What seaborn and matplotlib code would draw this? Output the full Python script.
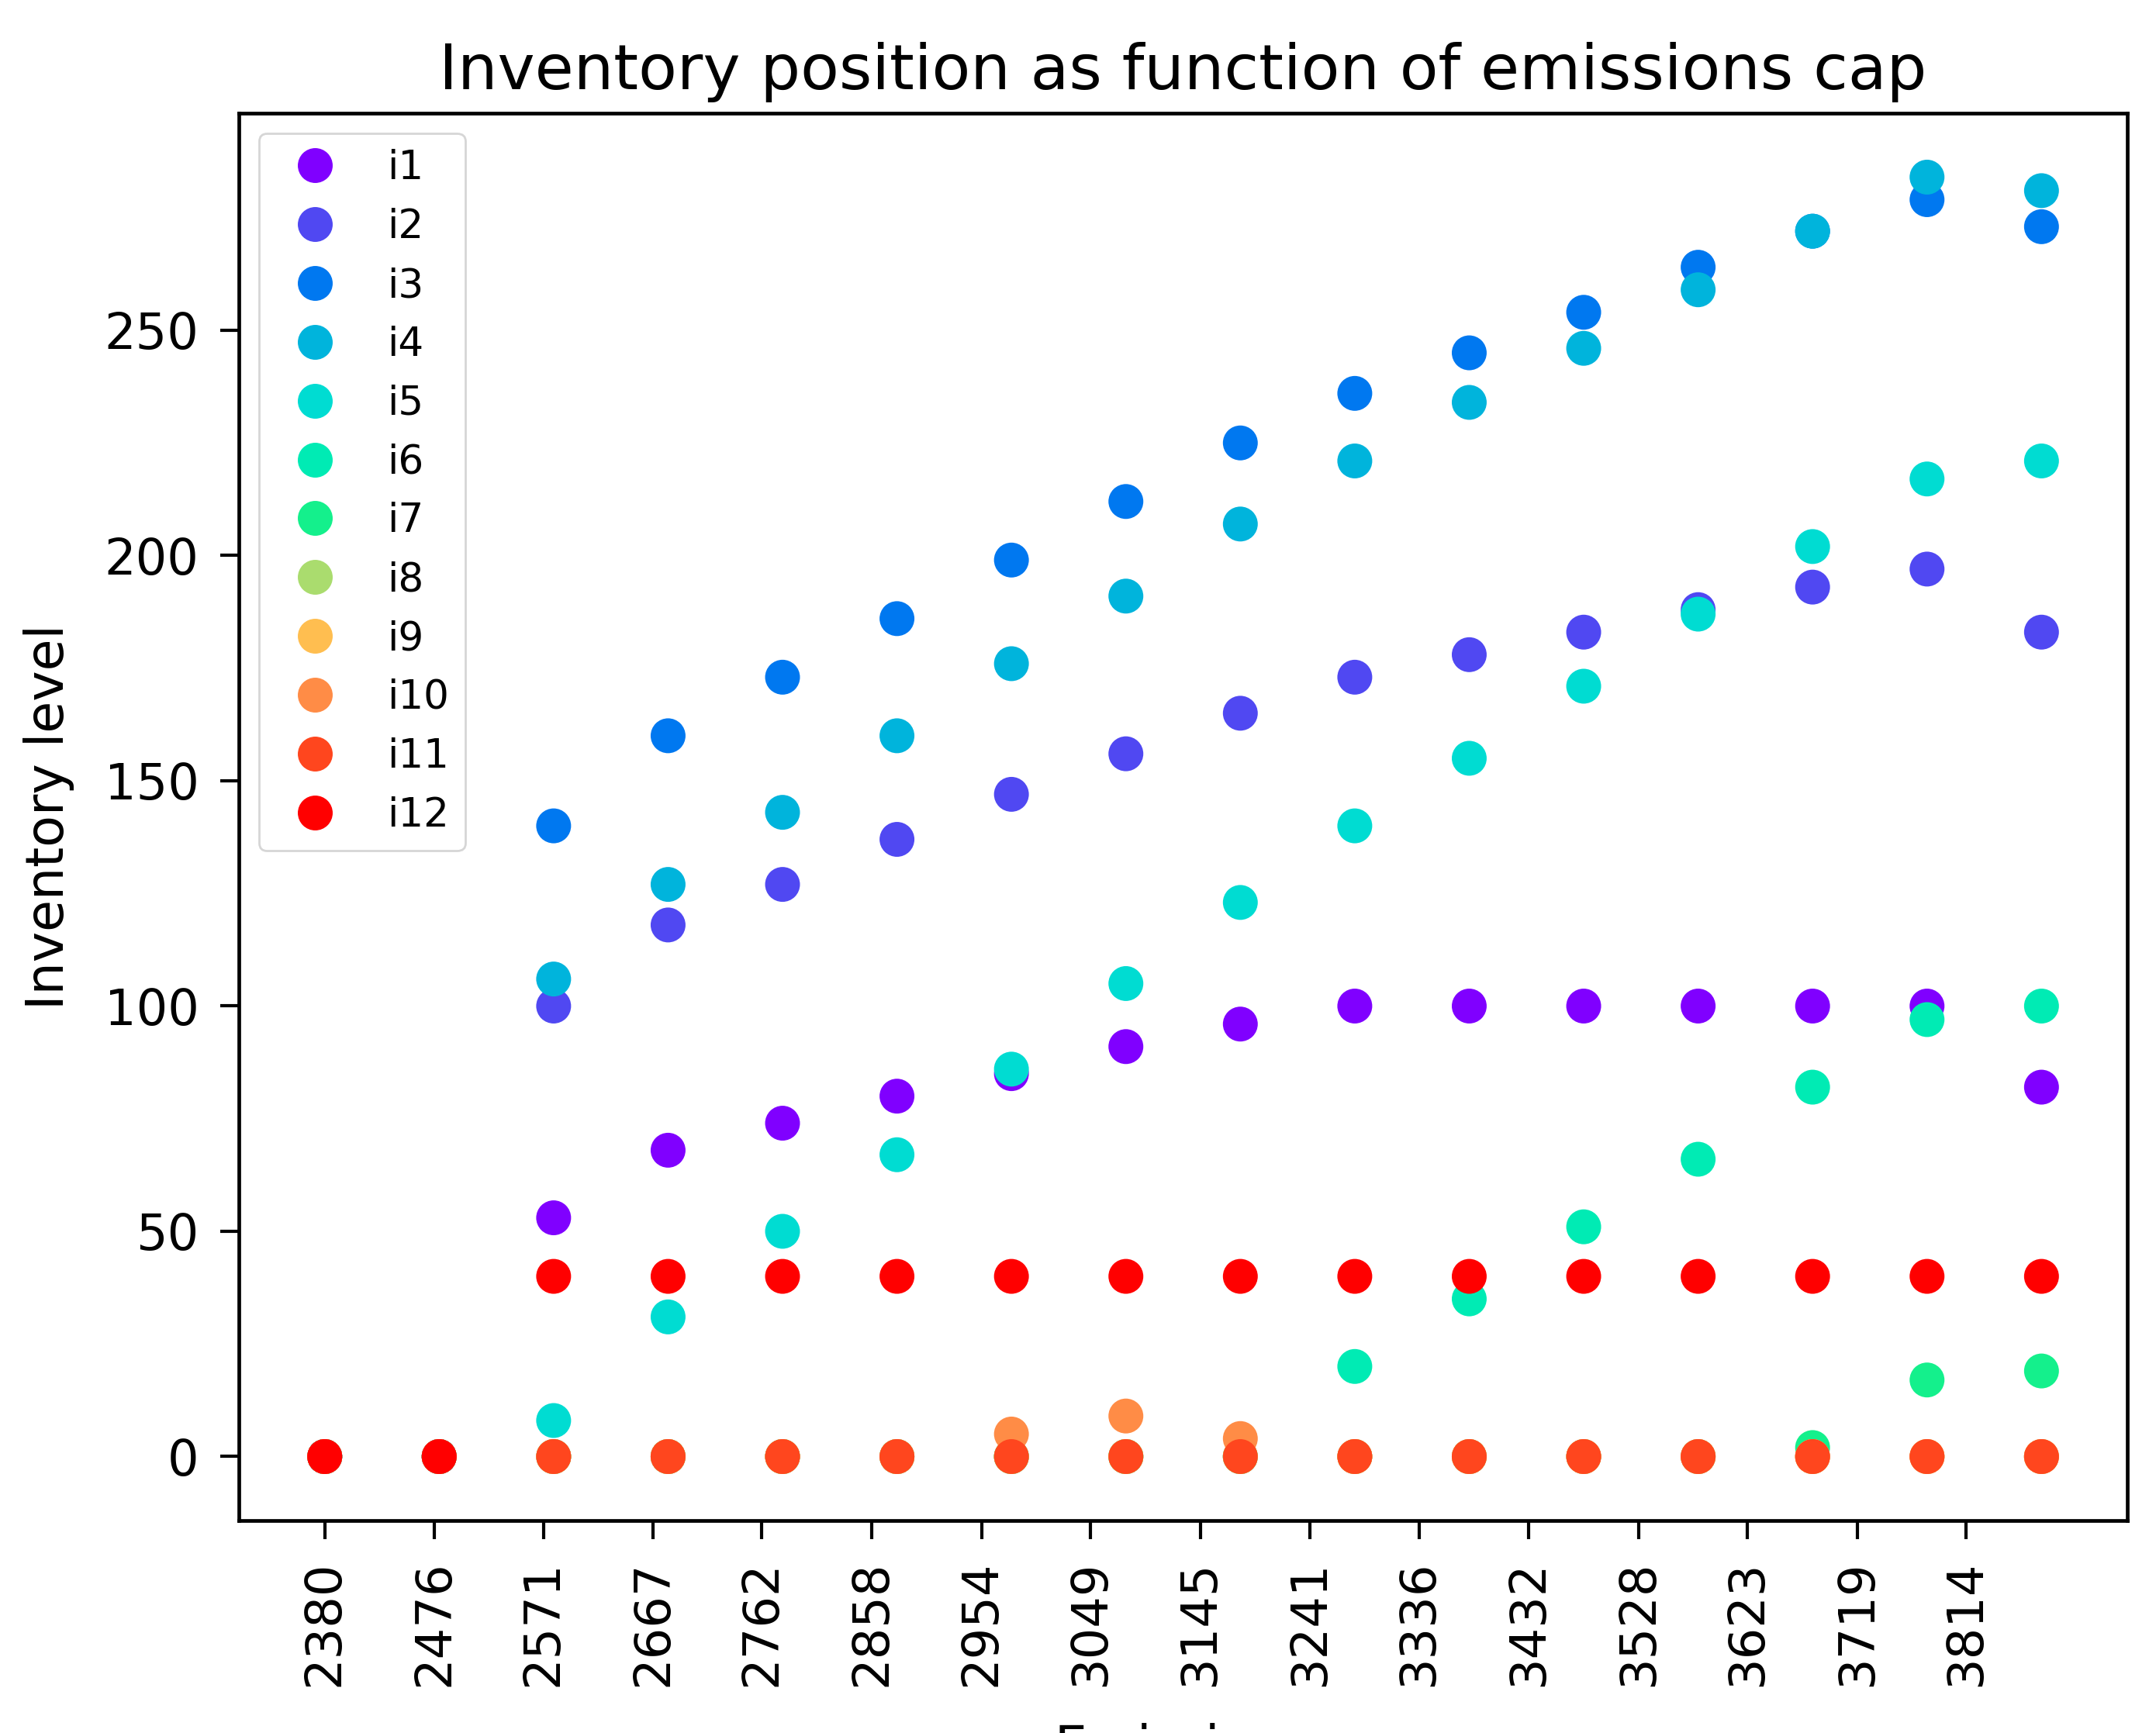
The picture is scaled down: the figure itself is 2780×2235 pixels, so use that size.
import numpy as np
import pandas as pd
import matplotlib
matplotlib.use("Agg")
import matplotlib.pyplot as plt
import seaborn as sns

# Emissions cap values (x) and the tick labels shown on the axis
caps = [2380, 2480, 2580, 2680, 2780, 2880, 2980, 3080,
        3180, 3280, 3380, 3480, 3580, 3680, 3780, 3880]
tick_vals = [2380, 2476, 2571, 2667, 2762, 2858, 2954, 3049,
             3145, 3241, 3336, 3432, 3528, 3623, 3719, 3814]
y_ticks = [0, 50, 100, 150, 200, 250]

series_names = ["i1", "i2", "i3", "i4", "i5", "i6",
                "i7", "i8", "i9", "i10", "i11", "i12"]

# rainbow-like colours as they appear in the chart
series_colors = ["#8000ff", "#5048f2", "#0078f0", "#00b4dc", "#00dcd2", "#00ebb4",
                 "#14f08c", "#aadc6e", "#ffbe50", "#ff8c46", "#ff461e", "#ff0000"]

# Inventory level per series
i1 = [0, 0, 53, 68, 74, 80, 85, 91, 96, 100, 100, 100, 100, 100, 100, 82]
i2 = [0, 0, 100, 118, 127, 137, 147, 156, 165, 173, 178, 183, 188, 193, 197, 183]
i3 = [0, 0, 140, 160, 173, 186, 199, 212, 225, 236, 245, 254, 264, 272, 279, 273]
i4 = [0, 0, 106, 127, 143, 160, 176, 191, 207, 221, 234, 246, 259, 272, 284, 281]
i5 = [0, 0, 8, 31, 50, 67, 86, 105, 123, 140, 155, 171, 187, 202, 217, 221]
i6 = [0, 0, 0, 0, 0, 0, 0, 0, 0, 20, 35, 51, 66, 82, 97, 100]
i7 = [0, 0, 0, 0, 0, 0, 0, 0, 0, 0, 0, 0, 0, 2, 17, 19]
i8 = [0, 0, 0, 0, 0, 0, 0, 0, 0, 0, 0, 0, 0, 0, 0, 0]
i9 = [0, 0, 0, 0, 0, 0, 0, 0, 0, 0, 0, 0, 0, 0, 0, 0]
i10 = [0, 0, 0, 0, 0, 0, 5, 9, 4, 0, 0, 0, 0, 0, 0, 0]
i11 = [0, 0, 0, 0, 0, 0, 0, 0, 0, 0, 0, 0, 0, 0, 0, 0]
i12 = [0, 0, 40, 40, 40, 40, 40, 40, 40, 40, 40, 40, 40, 40, 40, 40]

series_values = [i1, i2, i3, i4, i5, i6, i7, i8, i9, i10, i11, i12]

# long-form table, rows in series order so later series sit on top
rows = []
for name, vals in zip(series_names, series_values):
    for c, v in zip(caps, vals):
        rows.append({"cap": c, "level": v, "series": name})
df = pd.DataFrame(rows)

plt.rcParams["font.family"] = ["DejaVu Sans"]

fig = plt.figure(figsize=(13.9, 11.175), dpi=200)
ax = fig.add_axes([0.1108, 0.1226, 0.8759, 0.8121])

marker_s = 262
sns.scatterplot(data=df, x="cap", y="level", hue="series",
                hue_order=series_names, palette=series_colors,
                s=marker_s, linewidth=0, alpha=1, ax=ax)

# Legend
handles, labels = ax.get_legend_handles_labels()
for h in handles:
    if hasattr(h, "set_markersize"):
        h.set_markersize(np.sqrt(marker_s))
        h.set_markeredgewidth(0)
    elif hasattr(h, "set_sizes"):
        h.set_sizes([marker_s])
ax.legend(handles, labels, loc="upper left", fontsize=18.6)

ax.set_xticks(tick_vals)
ax.set_xticklabels([str(t) for t in tick_vals], rotation=90)
ax.set_yticks(y_ticks)

ax.tick_params(axis="both", labelsize=23, length=8.5, width=1.5,
               pad=10, direction="out", colors="black")
for sp in ax.spines.values():
    sp.set_linewidth(1.7)
    sp.set_color("black")

ax.set_title("Inventory position as function of emissions cap",
             fontsize=29.3, pad=11)
ax.set_ylabel("Inventory level", fontsize=24, labelpad=14)
# x label sits mostly below the bottom edge, as in the original image
ax.set_xlabel("Emissions", fontsize=24, labelpad=17)

fig.savefig("out.png", dpi=200)
